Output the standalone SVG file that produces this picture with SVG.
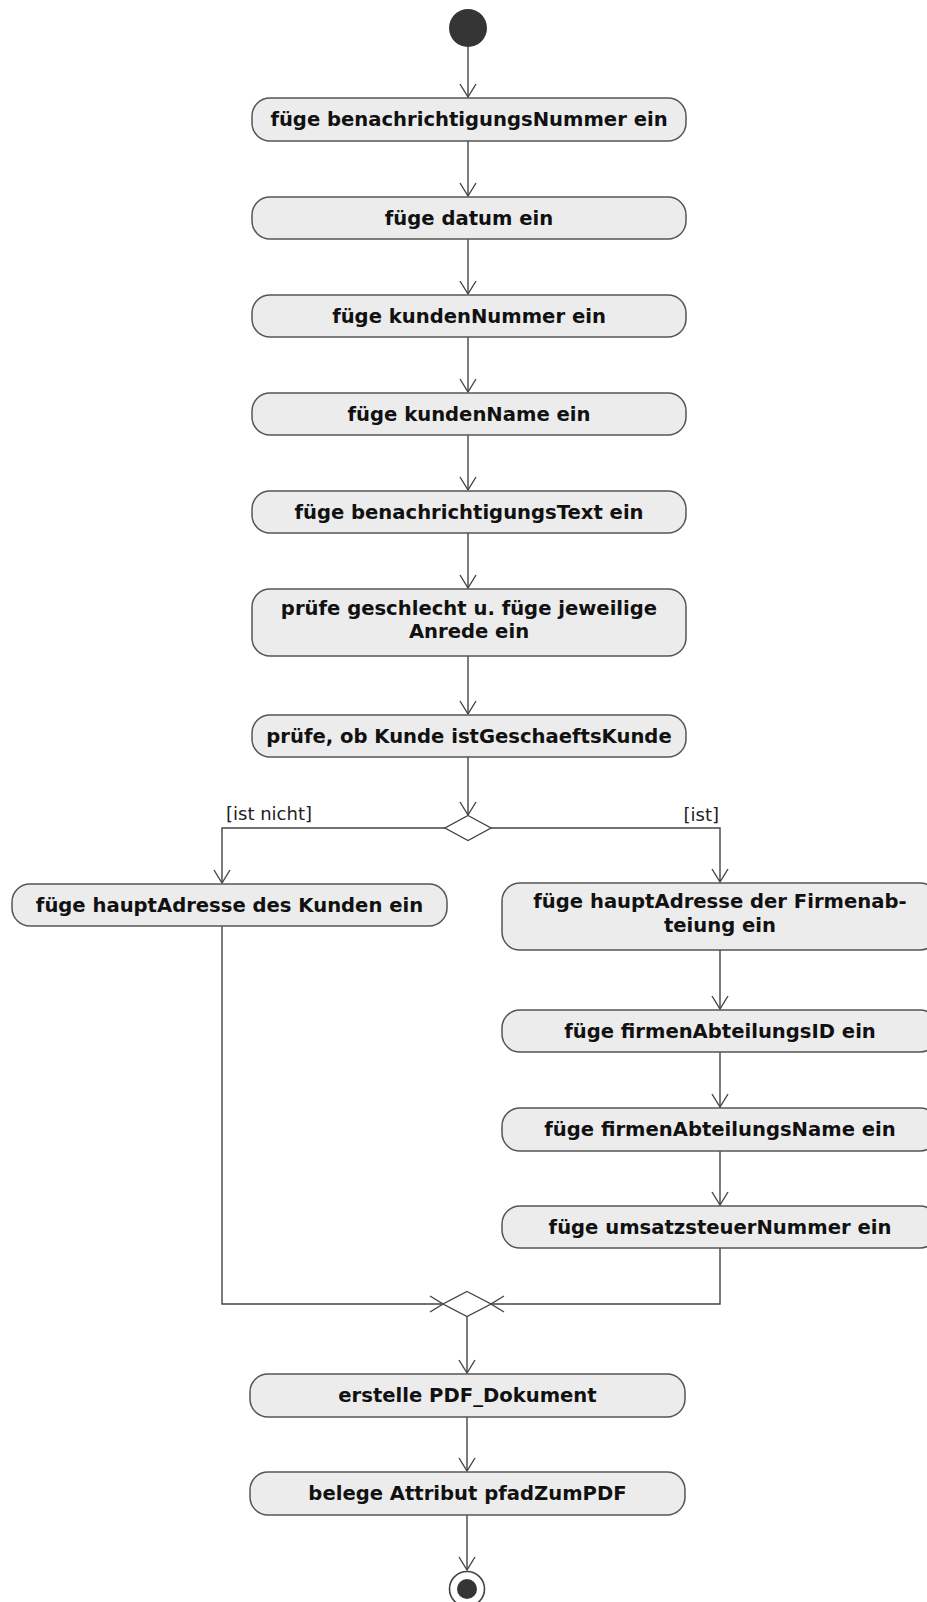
<svg xmlns="http://www.w3.org/2000/svg" width="927" height="1602" viewBox="0 0 927 1602">
  <defs>
    <style>
      .act { fill: #ececec; stroke: #555555; stroke-width: 1.5; }
      .lbl { font-family: "DejaVu Sans", Verdana, sans-serif; font-weight: bold; font-size: 19.6px; fill: #111111; text-anchor: middle; }
      .guard { font-family: "DejaVu Sans", Verdana, sans-serif; font-size: 18px; fill: #222222; }
      .flow { fill: none; stroke: #444444; stroke-width: 1.4; }
      .dec { fill: #ffffff; stroke: #444444; stroke-width: 1.4; }
    </style>
    <marker id="open" markerUnits="userSpaceOnUse" markerWidth="16" markerHeight="20" viewBox="-14 -9 16 18" refX="0" refY="0" orient="auto">
      <path d="M-13,-8 L0,0 L-13,8" fill="none" stroke="#444444" stroke-width="1.4"/>
    </marker>
  </defs>

  <rect width="927" height="1602" fill="#ffffff"/>

  <!-- flows -->
  <g id="connectors" class="flow">
    <path d="M468,47 V97" marker-end="url(#open)"/>
    <path d="M468,141 V196" marker-end="url(#open)"/>
    <path d="M468,239 V294" marker-end="url(#open)"/>
    <path d="M468,337 V392" marker-end="url(#open)"/>
    <path d="M468,435 V490" marker-end="url(#open)"/>
    <path d="M468,533 V588" marker-end="url(#open)"/>
    <path d="M468,656 V714" marker-end="url(#open)"/>
    <path d="M468,757 V815" marker-end="url(#open)"/>
    <path d="M445,828 H222 V883" marker-end="url(#open)"/>
    <path d="M491,828 H720 V882" marker-end="url(#open)"/>
    <path d="M720,950 V1009" marker-end="url(#open)"/>
    <path d="M720,1052 V1107" marker-end="url(#open)"/>
    <path d="M720,1151 V1205" marker-end="url(#open)"/>
    <path d="M222,926 V1304 H443" marker-end="url(#open)"/>
    <path d="M720,1248 V1304 H491" marker-end="url(#open)"/>
    <path d="M467,1316.5 V1373" marker-end="url(#open)"/>
    <path d="M467,1417 V1471" marker-end="url(#open)"/>
    <path d="M467,1515 V1570" marker-end="url(#open)"/>
  </g>

  <g id="guards">
    <text class="guard" x="226" y="820">[ist nicht]</text>
    <text class="guard" x="719" y="821" text-anchor="end">[ist]</text>
  </g>

  <!-- start -->
  <g id="start">
    <circle cx="468" cy="28" r="19" fill="#353535"/>
  </g>

  <g id="a1">
    <rect class="act" x="252" y="98" width="434" height="43" rx="18"/>
    <text class="lbl" x="469" y="126">füge benachrichtigungsNummer ein</text>
  </g>
  <g id="a2">
    <rect class="act" x="252" y="197" width="434" height="42" rx="18"/>
    <text class="lbl" x="469" y="225">füge datum ein</text>
  </g>
  <g id="a3">
    <rect class="act" x="252" y="295" width="434" height="42" rx="18"/>
    <text class="lbl" x="469" y="323">füge kundenNummer ein</text>
  </g>
  <g id="a4">
    <rect class="act" x="252" y="393" width="434" height="42" rx="18"/>
    <text class="lbl" x="469" y="421">füge kundenName ein</text>
  </g>
  <g id="a5">
    <rect class="act" x="252" y="491" width="434" height="42" rx="18"/>
    <text class="lbl" x="469" y="519">füge benachrichtigungsText ein</text>
  </g>
  <g id="a6">
    <rect class="act" x="252" y="589" width="434" height="67" rx="18"/>
    <text class="lbl" x="469" y="615">prüfe geschlecht u. füge jeweilige</text>
    <text class="lbl" x="469" y="638">Anrede ein</text>
  </g>
  <g id="a7">
    <rect class="act" x="252" y="715" width="434" height="42" rx="18"/>
    <text class="lbl" x="469" y="743">prüfe, ob Kunde istGeschaeftsKunde</text>
  </g>

  <g id="decision">
    <path class="dec" d="M468,815.5 L491,828 L468,840.5 L445,828 Z"/>
  </g>

  <g id="l1">
    <rect class="act" x="12" y="884" width="435" height="42" rx="18"/>
    <text class="lbl" x="229.5" y="912">füge hauptAdresse des Kunden ein</text>
  </g>

  <g id="r1">
    <rect class="act" x="502" y="883" width="436" height="67" rx="18"/>
    <text class="lbl" x="720" y="908">füge hauptAdresse der Firmenab-</text>
    <text class="lbl" x="720" y="932">teiung ein</text>
  </g>
  <g id="r2">
    <rect class="act" x="502" y="1010" width="436" height="42" rx="18"/>
    <text class="lbl" x="720" y="1038">füge firmenAbteilungsID ein</text>
  </g>
  <g id="r3">
    <rect class="act" x="502" y="1108" width="436" height="43" rx="18"/>
    <text class="lbl" x="720" y="1136">füge firmenAbteilungsName ein</text>
  </g>
  <g id="r4">
    <rect class="act" x="502" y="1206" width="436" height="42" rx="18"/>
    <text class="lbl" x="720" y="1234">füge umsatzsteuerNummer ein</text>
  </g>

  <g id="merge">
    <path class="dec" d="M467,1291.5 L491,1304 L467,1316.5 L443,1304 Z"/>
  </g>

  <g id="b1">
    <rect class="act" x="250" y="1374" width="435" height="43" rx="18"/>
    <text class="lbl" x="467.5" y="1402">erstelle PDF_Dokument</text>
  </g>
  <g id="b2">
    <rect class="act" x="250" y="1472" width="435" height="43" rx="18"/>
    <text class="lbl" x="467.5" y="1500">belege Attribut pfadZumPDF</text>
  </g>

  <!-- end -->
  <g id="end">
    <circle cx="467" cy="1589" r="17.5" fill="#ffffff" stroke="#444444" stroke-width="1.6"/>
    <circle cx="467" cy="1589" r="10" fill="#353535"/>
  </g>
</svg>
